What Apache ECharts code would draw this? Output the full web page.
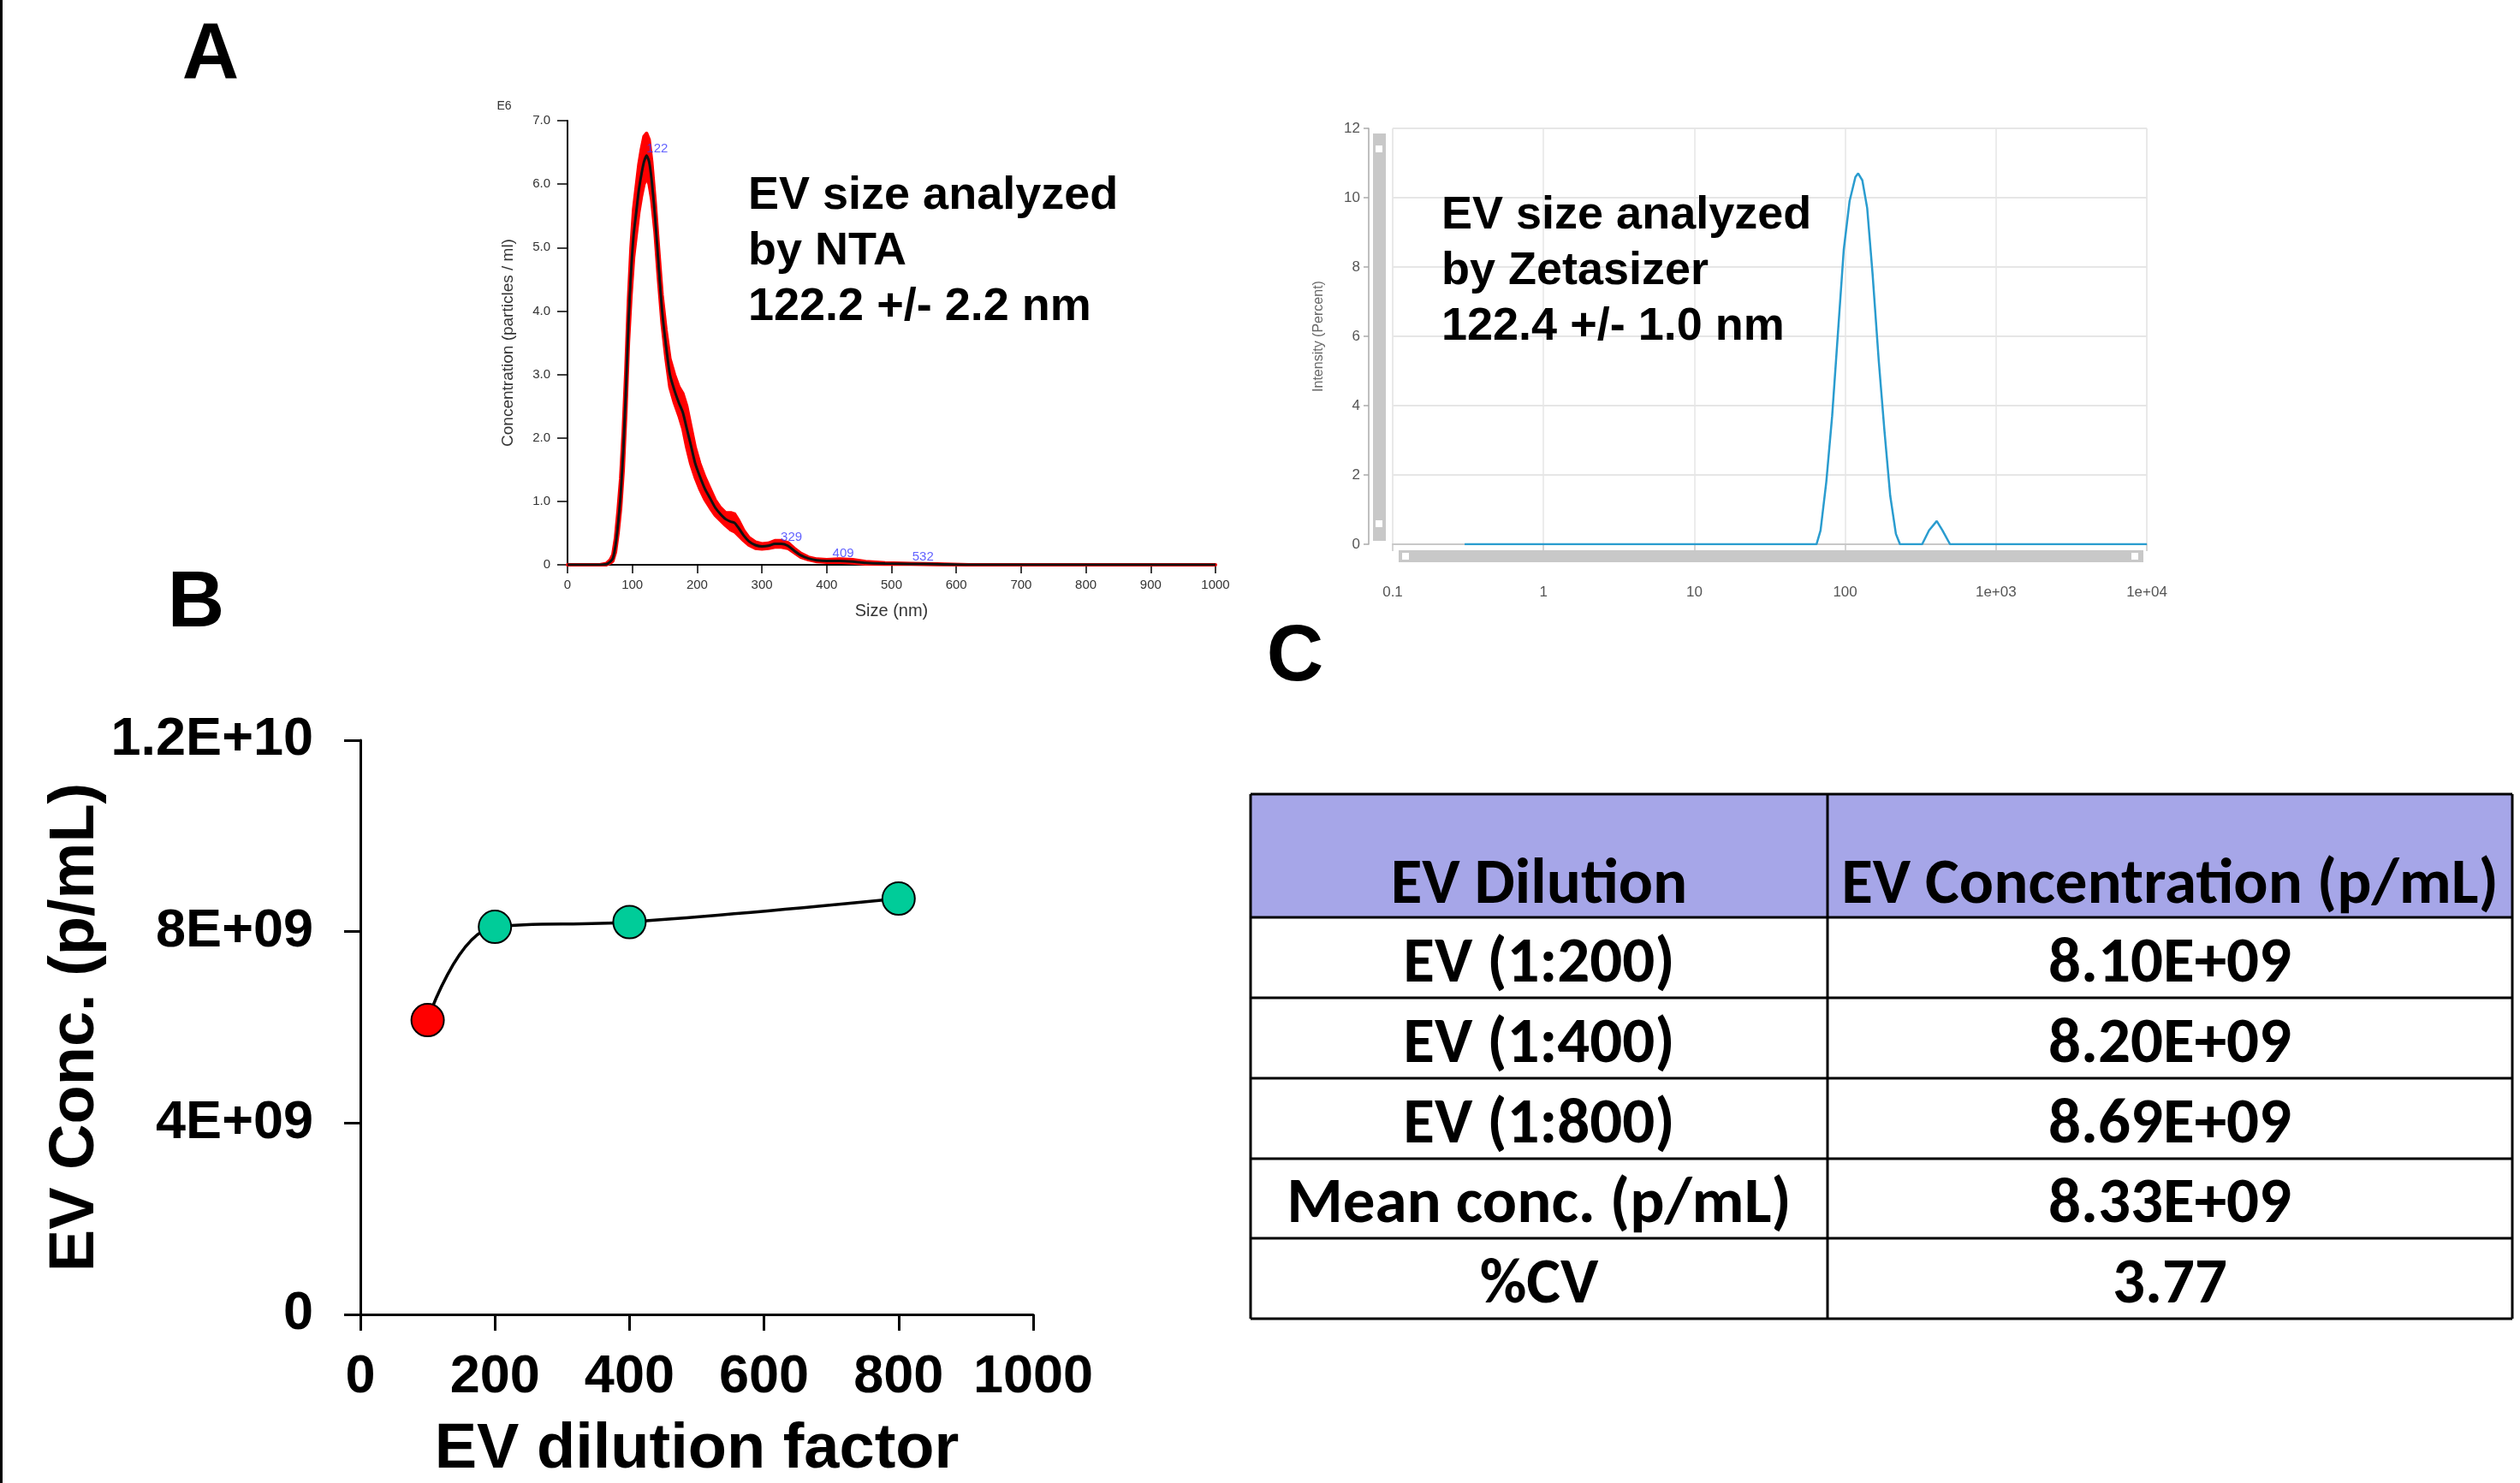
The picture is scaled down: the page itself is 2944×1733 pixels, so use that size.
<!DOCTYPE html>
<html>
<head>
<meta charset="utf-8">
<script src="https://cdn.jsdelivr.net/npm/echarts@6/dist/echarts.min.js"></script>
<style>
  html, body { margin: 0; padding: 0; background: #fff; }
  #chart { width: 2944px; height: 1733px; }
</style>
</head>
<body>
<div id="chart"></div>
<script>
// ---- Panel A, left: NTA size distribution (E6 particles / ml) ----
const ntaSize = [0, 50, 60, 66, 70, 74, 78, 82, 86, 90, 94, 98, 102, 106, 110, 114, 118, 122, 126, 130,
  135, 140, 146, 152, 158, 165, 172, 178, 184, 190, 197, 204, 212, 220, 228, 236, 244, 252, 258, 264,
  272, 280, 290, 300, 310, 320, 330, 340, 350, 360, 372, 385, 400, 420, 440, 460, 490, 530, 570, 620, 700, 1000];
const ntaMean = [0, 0, 0.01, 0.05, 0.1, 0.3, 0.65, 1.1, 1.8, 2.7, 3.8, 4.6, 5.2, 5.55, 5.9, 6.15, 6.35, 6.45, 6.35, 6.05,
  5.5, 4.8, 4.0, 3.45, 3.0, 2.75, 2.55, 2.4, 2.15, 1.9, 1.6, 1.4, 1.2, 1.05, 0.9, 0.8, 0.72, 0.68, 0.66, 0.58,
  0.46, 0.37, 0.31, 0.29, 0.3, 0.33, 0.33, 0.3, 0.22, 0.15, 0.1, 0.07, 0.06, 0.06, 0.05, 0.03, 0.02, 0.015, 0.01, 0, 0, 0];
const ntaUpper = [0, 0, 0.02, 0.08, 0.16, 0.42, 0.85, 1.35, 2.1, 3.05, 4.15, 5.0, 5.6, 5.95, 6.3, 6.55, 6.75, 6.8, 6.7, 6.35,
  5.75, 5.05, 4.25, 3.7, 3.25, 3.0, 2.8, 2.7, 2.5, 2.2, 1.85, 1.6, 1.38, 1.2, 1.02, 0.9, 0.82, 0.82, 0.8, 0.7,
  0.54, 0.43, 0.36, 0.33, 0.34, 0.38, 0.38, 0.35, 0.26, 0.18, 0.12, 0.09, 0.08, 0.09, 0.08, 0.05, 0.03, 0.02, 0.015, 0, 0, 0];
const ntaLower = [0, 0, 0, 0.03, 0.06, 0.2, 0.5, 0.9, 1.5, 2.4, 3.5, 4.25, 4.85, 5.2, 5.55, 5.8, 6.0, 6.1, 6.0, 5.75,
  5.25, 4.55, 3.8, 3.25, 2.8, 2.55, 2.35, 2.15, 1.85, 1.6, 1.38, 1.2, 1.03, 0.9, 0.78, 0.7, 0.62, 0.55, 0.52, 0.46,
  0.38, 0.31, 0.26, 0.25, 0.26, 0.28, 0.28, 0.26, 0.19, 0.12, 0.08, 0.05, 0.04, 0.04, 0.03, 0.015, 0.01, 0.01, 0.005, 0, 0, 0];
const ntaPeakSize = [122, 329, 409, 532];
const ntaPeakLabelY = [6.56, 0.44, 0.18, 0.12];

// ---- Panel A, right: Zetasizer intensity distribution ----
const zetaSize = [0.3, 64.6, 68.7, 75, 82, 89.6, 97.9, 107, 117, 122, 130, 140, 152, 167, 182, 199, 217, 231,
  324, 360, 405, 442, 496, 10000];
const zetaIntensity = [0, 0, 0.4, 1.8, 3.7, 6.1, 8.5, 9.9, 10.6, 10.7, 10.5, 9.7, 7.8, 5.3, 3.3, 1.4, 0.3, 0,
  0, 0.4, 0.67, 0.4, 0, 0];

// ---- Panel B: concentration vs dilution ----
const dilutionFactor = [100, 200, 400, 800];
const evConc = [6.15e9, 8.10e9, 8.20e9, 8.69e9];
const pointColors = ['#ff0000', '#00cc99', '#00cc99', '#00cc99'];
const bTicks = [0, 4e9, 8e9, 1.2e10];
const bTickLabels = ['0', '4E+09', '8E+09', '1.2E+10'];

// ---- Panel C: table ----
const tableHeader = ['EV Dilution', 'EV Concentration (p/mL)'];
const tableDilution = ['EV (1:200)', 'EV (1:400)', 'EV (1:800)', 'Mean conc. (p/mL)', '%CV'];
const tableConc = ['8.10E+09', '8.20E+09', '8.69E+09', '8.33E+09', '3.77'];

const pairs = (xs, ys) => xs.map((x, i) => [x, ys[i]]);
const ARIAL = '"Liberation Sans", Arial, sans-serif';
const CALIBRI = 'Carlito, Lato, "Open Sans", sans-serif';

const chart = echarts.init(document.getElementById('chart'));

// table + free text drawn as graphic elements (z high so they sit over grid lines)
const graphic = [];
graphic.push({ type: 'line', z: 100, shape: { x1: 1.5, y1: 0, x2: 1.5, y2: 1733 }, style: { stroke: '#000', lineWidth: 3 } });

function label(x, y, text, font, fill) {
  return {
    type: 'text', x: x, y: y, z: 100,
    style: { text: text, font: font, fill: fill || '#000', align: 'center', verticalAlign: 'middle',
      textAlign: 'center', textVerticalAlign: 'middle' }
  };
}
graphic.push(label(246, 66, 'A', 'bold 92px ' + ARIAL));
graphic.push(label(229, 707, 'B', 'bold 92px ' + ARIAL));
graphic.push(label(1513, 770, 'C', 'bold 92px ' + ARIAL));
graphic.push(label(589, 124, 'E6', '14px ' + ARIAL, '#333'));

function note(x, y, text) {
  return { type: 'text', x: x, y: y, z: 100,
    style: { text: text, font: 'bold 54px ' + ARIAL, fill: '#000', lineHeight: 65,
      align: 'left', verticalAlign: 'top', textAlign: 'left', textVerticalAlign: 'top' } };
}
graphic.push(note(874, 197, 'EV size analyzed\nby NTA\n122.2 +/- 2.2 nm'));
graphic.push(note(1684, 220, 'EV size analyzed\nby Zetasizer\n122.4 +/- 1.0 nm'));

// zetasizer scrollbars (decoration of the instrument plot)
graphic.push({ type: 'rect', z: 90, shape: { x: 1604, y: 156, width: 15, height: 476 }, style: { fill: '#c8c8c8' } });
graphic.push({ type: 'rect', z: 91, shape: { x: 1607, y: 170, width: 8, height: 8 }, style: { fill: '#fff' } });
graphic.push({ type: 'rect', z: 91, shape: { x: 1607, y: 608, width: 8, height: 8 }, style: { fill: '#fff' } });
graphic.push({ type: 'rect', z: 90, shape: { x: 1634, y: 643, width: 870, height: 14 }, style: { fill: '#c8c8c8' } });
graphic.push({ type: 'rect', z: 91, shape: { x: 1638, y: 646, width: 8, height: 8 }, style: { fill: '#fff' } });
graphic.push({ type: 'rect', z: 91, shape: { x: 2490, y: 646, width: 8, height: 8 }, style: { fill: '#fff' } });

// table
const tableCols = [1461, 2135, 2935];
const tableRows = [928, 1072, 1166, 1260, 1354, 1447, 1541];
graphic.push({ type: 'rect', z: 90, shape: { x: tableCols[0], y: tableRows[0], width: tableCols[2] - tableCols[0], height: tableRows[1] - tableRows[0] },
  style: { fill: '#a6a6e8' } });
tableRows.forEach(y => graphic.push({ type: 'line', z: 95, shape: { x1: tableCols[0], y1: y, x2: tableCols[2], y2: y }, style: { stroke: '#000', lineWidth: 3 } }));
tableCols.forEach(x => graphic.push({ type: 'line', z: 95, shape: { x1: x, y1: tableRows[0], x2: x, y2: tableRows[tableRows.length - 1] }, style: { stroke: '#000', lineWidth: 3 } }));
const colMid = [(tableCols[0] + tableCols[1]) / 2, (tableCols[1] + tableCols[2]) / 2];
const cellFont = 'bold 75px ' + CALIBRI;
tableHeader.forEach((t, c) => graphic.push(label(colMid[c], 1036, t, cellFont)));
tableDilution.forEach((t, r) => {
  const y = (tableRows[r + 1] + tableRows[r + 2]) / 2 + 9;
  graphic.push(label(colMid[0], y, t, cellFont));
  graphic.push(label(colMid[1], y, tableConc[r], cellFont));
});

const option = {
  animation: false,
  backgroundColor: '#fff',
  grid: [
    { left: 663, top: 141, width: 757, height: 519, outerBoundsMode: 'none' },
    { left: 1627, top: 150, width: 881, height: 486, show: true, borderColor: '#e2e2e2', borderWidth: 1, outerBoundsMode: 'none' },
    { left: 421, top: 865, width: 786, height: 671, outerBoundsMode: 'none' }
  ],
  xAxis: [
    {
      gridIndex: 0, type: 'value', min: 0, max: 1000, interval: 100,
      axisLine: { show: true, lineStyle: { color: '#000', width: 2 } },
      axisTick: { show: true, length: 10, lineStyle: { color: '#000', width: 1.5 } },
      axisLabel: { fontFamily: ARIAL, fontSize: 15, color: '#333', margin: 16, formatter: v => String(v) },
      splitLine: { show: false },
      name: 'Size (nm)', nameLocation: 'middle', nameGap: 44,
      nameTextStyle: { fontFamily: ARIAL, fontSize: 20, color: '#333' }
    },
    {
      gridIndex: 1, type: 'log', logBase: 10, min: 0.1, max: 10000, offset: 26,
      axisLine: { show: true, lineStyle: { color: '#c8c8c8', width: 2 } },
      axisTick: { show: true, length: 8, lineStyle: { color: '#c8c8c8', width: 1.5 } },
      axisLabel: {
        fontFamily: ARIAL, fontSize: 17, color: '#555', margin: 22,
        formatter: v => v >= 1000 ? '1e+0' + Math.round(Math.log10(v)) : String(Math.round(v * 10) / 10)
      },
      splitLine: { show: true, lineStyle: { color: '#e6e6e6', width: 1.5 } },
      minorTick: { show: false }
    },
    {
      gridIndex: 2, type: 'value', min: 0, max: 1000, interval: 200,
      axisLine: { show: true, lineStyle: { color: '#000', width: 3 } },
      axisTick: { show: true, length: 19, lineStyle: { color: '#000', width: 3 } },
      axisLabel: { fontFamily: ARIAL, fontWeight: 'bold', fontSize: 63, color: '#000', margin: 42, formatter: v => String(v) },
      splitLine: { show: false },
      name: 'EV dilution factor', nameLocation: 'middle', nameGap: 122,
      nameTextStyle: { fontFamily: ARIAL, fontWeight: 'bold', fontSize: 74, color: '#000' }
    }
  ],
  yAxis: [
    {
      gridIndex: 0, type: 'value', min: 0, max: 7, interval: 1,
      axisLine: { show: true, lineStyle: { color: '#000', width: 2 } },
      axisTick: { show: true, length: 12, lineStyle: { color: '#000', width: 1.5 } },
      axisLabel: { fontFamily: ARIAL, fontSize: 15, color: '#333', margin: 20,
        formatter: v => v === 0 ? '0' : v.toFixed(1) },
      splitLine: { show: false },
      name: 'Concentration (particles / ml)', nameLocation: 'middle', nameGap: 60,
      nameTextStyle: { fontFamily: ARIAL, fontSize: 19, color: '#333' }
    },
    {
      gridIndex: 1, type: 'value', min: 0, max: 12, interval: 2, offset: 28,
      axisLine: { show: true, lineStyle: { color: '#aaa', width: 1.5 } },
      axisTick: { show: true, length: 6, lineStyle: { color: '#aaa', width: 1.5 } },
      axisLabel: { fontFamily: ARIAL, fontSize: 17, color: '#555', margin: 10 },
      splitLine: { show: true, lineStyle: { color: '#e6e6e6', width: 2 } },
      name: 'Intensity (Percent)', nameLocation: 'middle', nameGap: 50,
      nameTextStyle: { fontFamily: ARIAL, fontSize: 16, color: '#666' }
    },
    {
      gridIndex: 2, type: 'value', min: 0, max: 1.2e10, interval: 4e9,
      axisLine: { show: true, lineStyle: { color: '#000', width: 3 } },
      axisTick: { show: true, length: 19, lineStyle: { color: '#000', width: 3 } },
      axisLabel: { fontFamily: ARIAL, fontWeight: 'bold', fontSize: 63, color: '#000', margin: 55,
        formatter: v => bTickLabels[bTicks.findIndex(t => Math.abs(t - v) < 1)] },
      splitLine: { show: false },
      name: 'EV Conc. (p/mL)', nameLocation: 'middle', nameGap: 285,
      nameTextStyle: { fontFamily: ARIAL, fontWeight: 'bold', fontSize: 74, color: '#000' }
    }
  ],
  series: [
    // NTA error band: polygon between upper and lower edges
    { type: 'custom', xAxisIndex: 0, yAxisIndex: 0, data: [[0, 0]], silent: true, z: 3,
      renderItem: (params, api) => {
        const top = ntaSize.map((x, i) => api.coord([x, ntaUpper[i]]));
        const bottom = ntaSize.map((x, i) => api.coord([x, ntaLower[i]])).reverse();
        return { type: 'polygon', shape: { points: top.concat(bottom) },
          style: { fill: '#ff0000', stroke: '#ff0000', lineWidth: 4, lineJoin: 'round' } };
      } },
    { type: 'line', xAxisIndex: 0, yAxisIndex: 0, data: pairs(ntaSize, ntaMean),
      symbol: 'none', smooth: 0.2, lineStyle: { color: '#111', width: 3 }, z: 5 },
    { type: 'scatter', xAxisIndex: 0, yAxisIndex: 0, data: pairs(ntaPeakSize, ntaPeakLabelY),
      symbolSize: 0, z: 6,
      label: { show: true, position: 'right', distance: 0, fontFamily: ARIAL, fontSize: 15, color: '#3a3aff',
        formatter: p => String(p.value[0]) } },

    // Zetasizer
    { type: 'line', xAxisIndex: 1, yAxisIndex: 1, data: pairs(zetaSize, zetaIntensity),
      symbol: 'none', lineStyle: { color: '#2a9ccf', width: 2.5 } },

    // Panel B
    { type: 'line', xAxisIndex: 2, yAxisIndex: 2, smooth: 0.4,
      data: dilutionFactor.map((d, i) => ({ value: [d, evConc[i]], itemStyle: { color: pointColors[i] } })),
      symbol: 'circle', symbolSize: 38,
      lineStyle: { color: '#000', width: 3.5 },
      itemStyle: { borderColor: '#000', borderWidth: 2 } }
  ],
  graphic: graphic
};

chart.setOption(option);
</script>
</body>
</html>
